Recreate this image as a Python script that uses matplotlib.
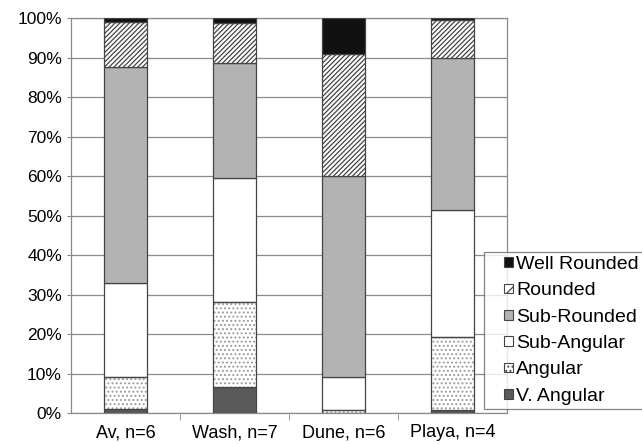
import matplotlib

matplotlib.use("Agg")

import matplotlib.pyplot as plt
import numpy as np
from matplotlib.legend_handler import HandlerPatch
from matplotlib.patches import Patch, Rectangle

plt.rcParams["font.family"] = ["Liberation Sans", "DejaVu Sans"]
plt.rcParams["hatch.linewidth"] = 0.9

SITES = ["Av, n=6", "Wash, n=7", "Dune, n=6", "Playa, n=4"]
CLASSES = ["V. Angular", "Angular", "Sub-Angular", "Sub-Rounded", "Rounded", "Well Rounded"]

# percent of grains per roundness class, bottom to top
V_ANGULAR = [1.0, 6.7, 0.0, 0.8]
ANGULAR = [8.0, 21.5, 0.7, 18.5]
SUB_ANGULAR = [24.0, 31.3, 8.3, 32.2]
SUB_ROUNDED = [54.5, 29.0, 51.0, 38.3]
ROUNDED = [11.5, 10.2, 31.0, 9.7]
WELL_ROUNDED = [1.0, 1.3, 9.0, 0.5]

STYLES = {
    "V. Angular": dict(color="#5a5a5a", hatch=None),
    "Angular": dict(color="white", hatch="...."),
    "Sub-Angular": dict(color="white", hatch=None),
    "Sub-Rounded": dict(color="#b3b3b3", hatch=None),
    "Rounded": dict(color="white", hatch="///////"),
    "Well Rounded": dict(color="#111111", hatch=None),
}

values = [V_ANGULAR, ANGULAR, SUB_ANGULAR, SUB_ROUNDED, ROUNDED, WELL_ROUNDED]

fig = plt.figure(figsize=(6.42, 4.44), dpi=100)
ax = fig.add_axes([0.1106, 0.0698, 0.6791, 0.8896])

x = np.arange(len(SITES))
bottom = np.zeros(len(SITES))
for name, vals in zip(CLASSES, values):
    st = STYLES[name]
    vals = np.array(vals)
    if st["hatch"] == "....":
        ax.bar(x, vals, 0.4, bottom=bottom, color="white", edgecolor="#9a9a9a",
               hatch=st["hatch"], linewidth=0, zorder=3)
        ax.bar(x, vals, 0.4, bottom=bottom, facecolor="none", edgecolor="#444444",
               linewidth=0.9, zorder=4)
    else:
        ax.bar(x, vals, 0.4, bottom=bottom, color=st["color"], edgecolor="#444444",
               hatch=st["hatch"], linewidth=0.9, zorder=3)
    bottom += vals

ax.set_xlim(-0.5, len(SITES) - 0.5)
ax.set_ylim(0, 100)
ax.set_yticks(np.arange(0, 101, 10))
ax.set_yticklabels([f"{v}%" for v in range(0, 101, 10)], fontsize=12.5)
ax.set_xticks(x)
ax.set_xticklabels(SITES, fontsize=13)
ax.tick_params(axis="x", which="major", length=0, pad=8)
ax.set_xticks(np.arange(0.5, len(SITES) - 0.5, 1), minor=True)
ax.tick_params(axis="x", which="minor", length=5, color="#888888")
ax.tick_params(axis="y", length=3, color="#888888", pad=3.5)
ax.yaxis.grid(True, color="#8a8a8a", linewidth=0.9, zorder=0)
ax.set_axisbelow(True)
for s in ax.spines.values():
    s.set_color("#8a8a8a")
    s.set_linewidth(0.9)


def small_square(legend, orig_handle, xdescent, ydescent, width, height, fontsize):
    side = height * 0.95
    return Rectangle((width - side - xdescent, -ydescent + (height - side) / 2), side, side)


# legend proxies in reverse order (top class first)
proxies = []
for name in reversed(CLASSES):
    st = STYLES[name]
    hatch = st["hatch"]
    if hatch == "///////":
        hatch = "///"
    proxies.append(Patch(facecolor=st["color"], edgecolor="#444444", hatch=hatch,
                         linewidth=0.8, label=name))
leg = fig.legend(handles=proxies, loc="upper left", bbox_to_anchor=(0.754, 0.432),
                 fontsize=14, frameon=True, fancybox=False, edgecolor="#666666",
                 handlelength=1.3, handleheight=0.42, handletextpad=0.15,
                 labelspacing=0.48, borderpad=0.2, borderaxespad=0,
                 handler_map={Patch: HandlerPatch(patch_func=small_square)})
leg.get_frame().set_linewidth(0.9)

fig.savefig("out.png", dpi=100)
